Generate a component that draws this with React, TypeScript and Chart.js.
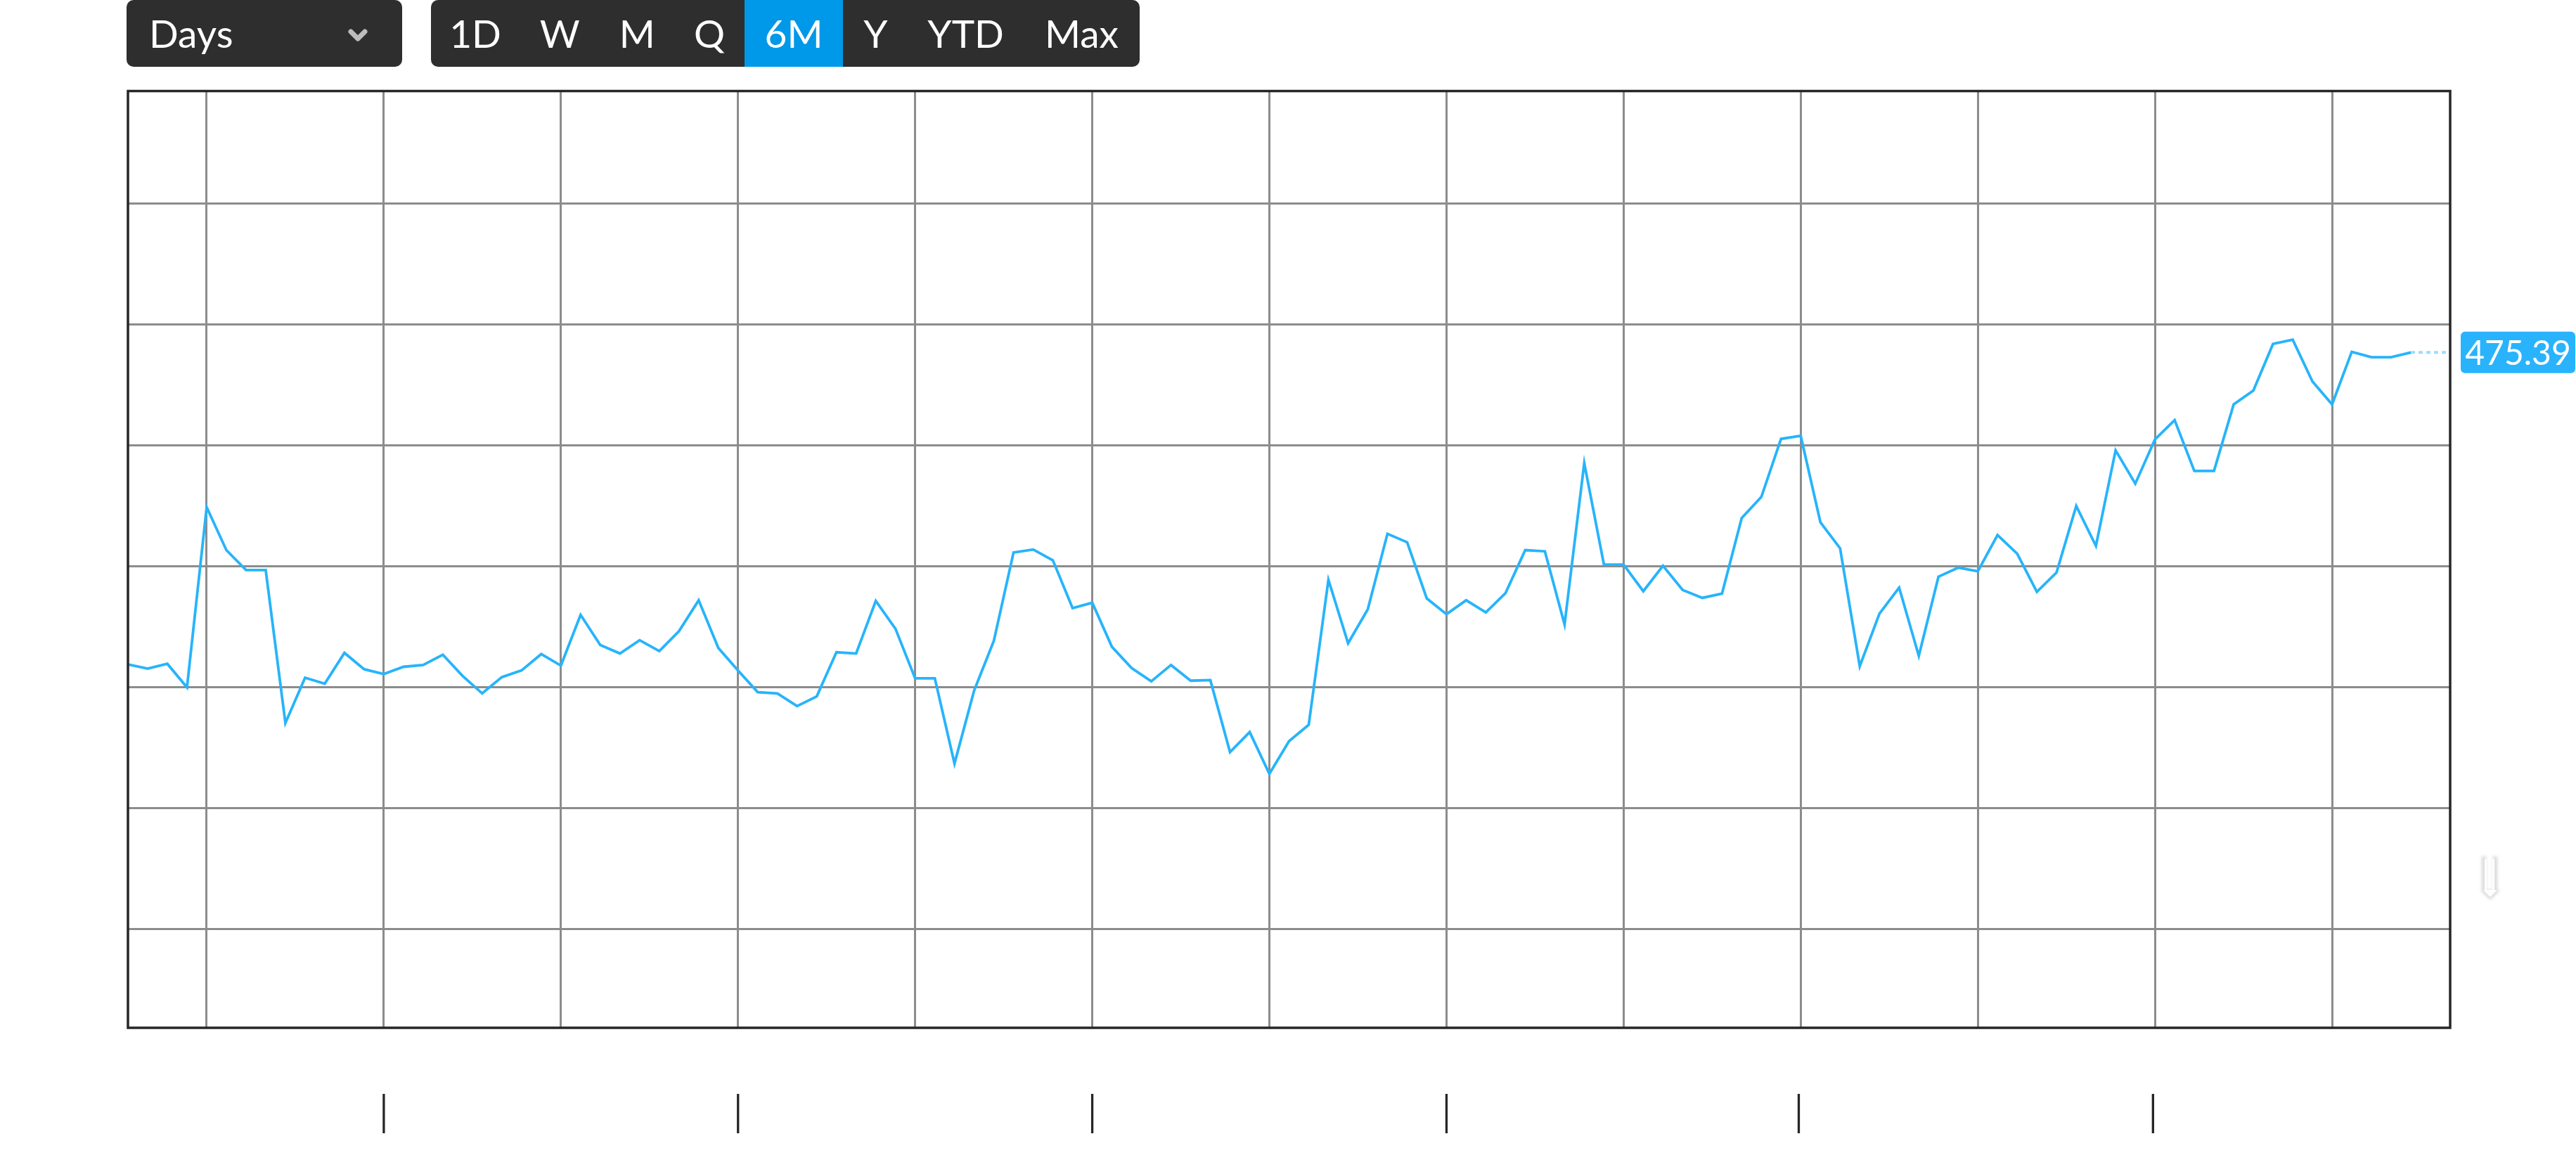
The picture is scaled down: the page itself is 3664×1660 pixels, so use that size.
import React, { useEffect, useRef } from "react";
import { Chart, registerables } from "chart.js";

Chart.register(...registerables);

// ---- data ----
const values: number[] = [
  423.8, 423.1, 423.9, 420.0, 449.8, 442.7, 439.4, 439.4, 414.1, 421.6,
  420.6, 425.7, 423.0, 422.2, 423.4, 423.7, 425.4, 421.9, 419.0, 421.7,
  422.8, 425.5, 423.6, 432.0, 427.0, 425.6, 427.8, 426.0, 429.3, 434.4,
  426.5, 422.8, 419.2, 419.0, 416.9, 418.5, 425.8, 425.6, 434.3, 429.7,
  421.5, 421.5, 407.4, 419.5, 427.7, 442.3, 442.8, 441.0, 433.1, 434.0,
  426.7, 423.2, 421.0, 423.7, 421.1, 421.2, 409.3, 412.6, 405.7, 411.1,
  413.8, 437.8, 427.3, 432.9, 445.4, 444.0, 434.7, 432.1, 434.4, 432.4,
  435.6, 442.7, 442.5, 430.4, 457.1, 440.3, 440.3, 435.9, 440.1, 436.1,
  434.8, 435.5, 448.0, 451.5, 461.1, 461.6, 447.3, 443.0, 423.5, 432.2,
  436.5, 425.2, 438.3, 439.8, 439.2, 445.2, 442.1, 435.8, 439.0, 450.0,
  443.4, 459.2, 453.7, 461.0, 464.2, 455.8, 455.8, 466.8, 469.1, 476.8,
  477.5, 470.6, 466.8, 475.5, 474.6, 474.6, 475.39,
];
const xGridTicks: number[] = [4, 13, 22, 31, 40, 49, 58, 67, 76, 85, 94, 103, 112];
const yGridTicks: number[] = [380, 400, 420, 440, 460, 480, 500];
const bottomTickMarks: number[] = [13, 31, 49, 67, 84.9, 102.9];
const xRange: number[] = [0, 118];
const yRange: number[] = [363.69, 518.63];
const lastLabel = "475.39";
const periodLabel = "Days";
const intervalButtons: string[] = ["1D", "W", "M", "Q", "6M", "Y", "YTD", "Max"];
const activeInterval = "6M";

// ---- styles ----
const LINE = "#27b4fb";
const LABEL_BG = "#29b3fc";
const GRID = "#8c8c8c";
const FRAME = "#262626";
const BAR_BG = "#2e2e2e";
const ACTIVE_BG = "#0098e8";
const BTN_EDGES = [612.5, 739.5, 853, 959.5, 1058.7, 1199.3, 1291.5, 1455.75, 1621];

const framePlugin = {
  id: "frameAndLabel",
  afterDatasetsDraw(chart: any) {
    const { ctx, chartArea: a, scales } = chart;
    ctx.save();
    ctx.strokeStyle = FRAME;
    ctx.lineWidth = 3.5;
    ctx.strokeRect(a.left, a.top, a.right - a.left, a.bottom - a.top);

    ctx.lineWidth = 3.3;
    bottomTickMarks.forEach((v) => {
      const x = scales.x.getPixelForValue(v);
      ctx.beginPath();
      ctx.moveTo(x, a.bottom + 94);
      ctx.lineTo(x, a.bottom + 150);
      ctx.stroke();
    });

    const y = scales.y.getPixelForValue(values[values.length - 1]);
    const bx = a.right + 15;
    const bw = 163;
    const bh = 59;
    const by = y - bh / 2;
    ctx.fillStyle = LABEL_BG;
    ctx.beginPath();
    (ctx as any).roundRect(bx, by, bw, bh, 6);
    ctx.fill();
    ctx.fillStyle = "#ffffff";
    ctx.font = "48px Lato";
    ctx.textAlign = "center";
    ctx.textBaseline = "middle";
    ctx.fillText(lastLabel, bx + bw / 2, y + 2);
    ctx.restore();
  },
};

export default function App() {
  const ref = useRef<HTMLCanvasElement | null>(null);

  useEffect(() => {
    if (!ref.current) return;
    const last = values.length - 1;
    const chart = new Chart(ref.current, {
      type: "line",
      data: {
        datasets: [
          {
            data: values.map((v, i) => ({ x: i, y: v })),
            borderColor: LINE,
            borderWidth: 3.8,
            pointRadius: 0,
            tension: 0,
            fill: false,
          },
          {
            data: [
              { x: last, y: values[last] },
              { x: xRange[1], y: values[last] },
            ],
            borderColor: "#9fdcfc",
            borderWidth: 4,
            borderDash: [6, 5],
            pointRadius: 0,
            tension: 0,
            fill: false,
          },
        ],
      },
      options: {
        animation: false,
        responsive: false,
        devicePixelRatio: 1,
        layout: { padding: { left: 182, top: 129.5, right: 179, bottom: 198 } },
        plugins: { legend: { display: false }, tooltip: { enabled: false } },
        scales: {
          x: {
            type: "linear",
            min: xRange[0],
            max: xRange[1],
            afterBuildTicks: (s: any) => {
              s.ticks = xGridTicks.map((v) => ({ value: v }));
            },
            ticks: { display: false },
            grid: { color: GRID, lineWidth: 3, drawTicks: false },
            border: { display: false },
          },
          y: {
            type: "linear",
            min: yRange[0],
            max: yRange[1],
            afterBuildTicks: (s: any) => {
              s.ticks = yGridTicks.map((v) => ({ value: v }));
            },
            ticks: { display: false },
            grid: { color: GRID, lineWidth: 3, drawTicks: false },
            border: { display: false },
          },
        },
      },
      plugins: [framePlugin],
    } as any);
    return () => chart.destroy();
  }, []);

  const font = "Lato, 'Open Sans', sans-serif";

  return (
    <div
      style={{
        position: "absolute",
        left: 0,
        top: 0,
        width: 3664,
        height: 1660,
        overflow: "hidden",
        background: "#ffffff",
      }}
    >
      <canvas
        ref={ref}
        width={3664}
        height={1660}
        style={{ position: "absolute", left: 0, top: 0, width: 3664, height: 1660 }}
      />
      {/* period dropdown */}
      <div
        style={{
          position: "absolute",
          left: 180,
          top: 0,
          width: 392,
          height: 95,
          background: BAR_BG,
          borderRadius: 10,
          color: "#fff",
          fontFamily: font,
          fontSize: 55,
          lineHeight: "95px",
        }}
      >
        <span style={{ position: "absolute", left: 32, top: 0 }}>{periodLabel}</span>
        <svg
          style={{ position: "absolute", left: 314, top: 40 }}
          width={30}
          height={20}
          viewBox="0 0 30 20"
        >
          <polyline
            points="5,5 15,15 25,5"
            fill="none"
            stroke="#bdbdbd"
            strokeWidth={7}
            strokeLinecap="round"
            strokeLinejoin="round"
          />
        </svg>
      </div>
      {/* interval buttons */}
      <div
        style={{
          position: "absolute",
          left: BTN_EDGES[0],
          top: 0,
          width: BTN_EDGES[BTN_EDGES.length - 1] - BTN_EDGES[0],
          height: 95,
          background: BAR_BG,
          borderRadius: 10,
          overflow: "hidden",
          fontFamily: font,
          fontSize: 55,
          color: "#fff",
        }}
      >
        {intervalButtons.map((b, i) => (
          <div
            key={b}
            style={{
              position: "absolute",
              left: BTN_EDGES[i] - BTN_EDGES[0],
              top: 0,
              width: BTN_EDGES[i + 1] - BTN_EDGES[i],
              height: 95,
              lineHeight: "95px",
              textAlign: "center",
              background: b === activeInterval ? ACTIVE_BG : "transparent",
            }}
          >
            {b}
          </div>
        ))}
      </div>
      {/* resize handle */}
      <svg
        style={{ position: "absolute", left: 3522, top: 1200 }}
        width={40}
        height={84}
        viewBox="0 0 40 84"
      >
        <defs>
          <filter id="blr" x="-50%" y="-50%" width="200%" height="200%">
            <feGaussianBlur stdDeviation="2" />
          </filter>
        </defs>
        <g filter="url(#blr)" fill="#d9d9d9">
          <rect x={8} y={18} width={6} height={48} />
          <rect x={24} y={18} width={6} height={48} />
          <polygon points="6,66 34,66 20,80" />
        </g>
        <g fill="#ffffff">
          <rect x={12} y={22} width={3} height={44} />
          <rect x={23} y={22} width={3} height={44} />
          <polygon points="10,66 30,66 20,76" />
        </g>
      </svg>
    </div>
  );
}
